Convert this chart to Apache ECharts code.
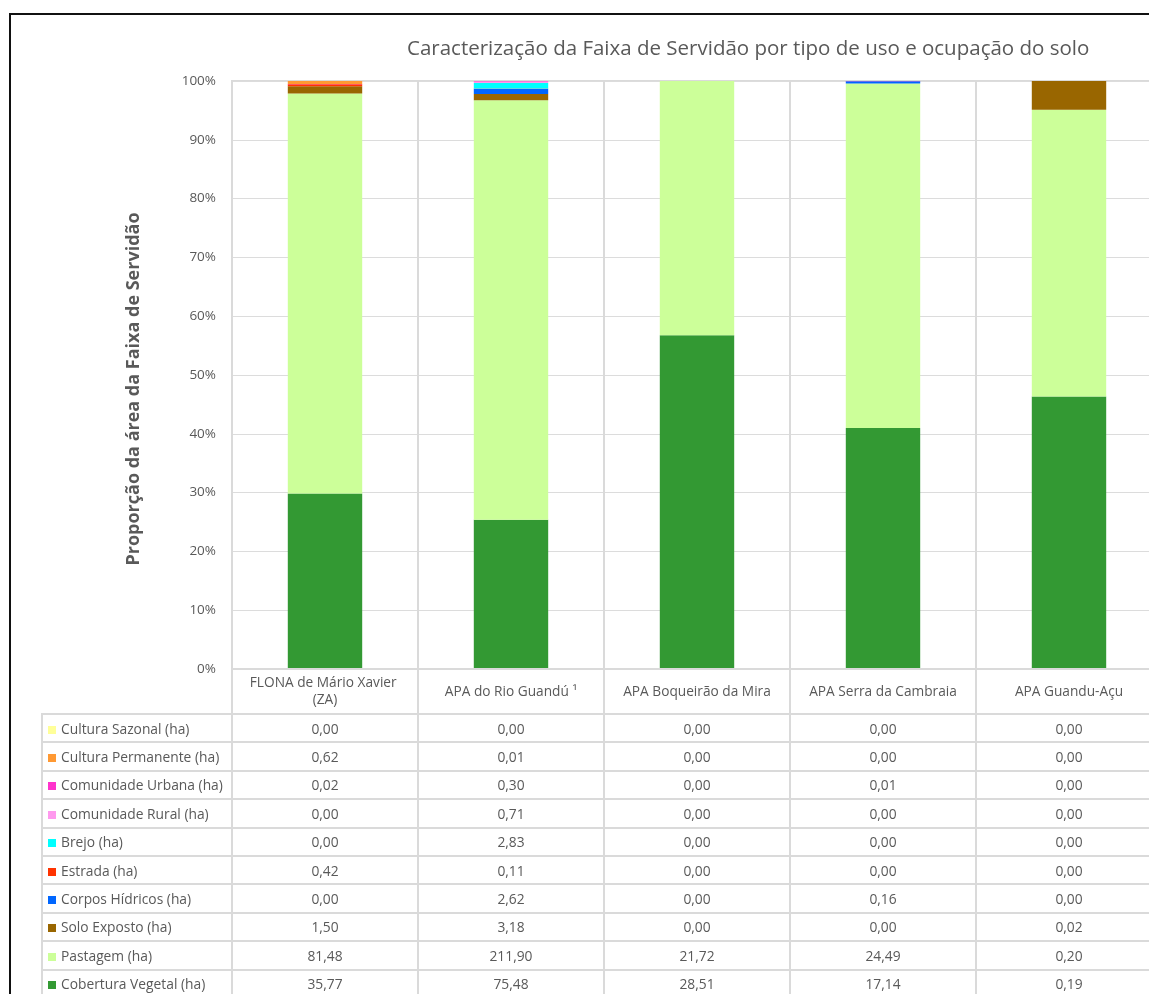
<!DOCTYPE html>
<html>
<head>
<meta charset="utf-8">
<script src="https://cdn.jsdelivr.net/npm/echarts@6/dist/echarts.min.js"></script>
<style>
  html, body { margin: 0; padding: 0; background: #fff; overflow: hidden; }
  #wrap { position: relative; width: 1149px; height: 994px; overflow: hidden; }
  #chart { position: absolute; left: 0; top: 0; width: 1200px; height: 994px; }
  #frame { position: absolute; left: 9px; top: 13px; width: 1200px; height: 1100px;
           border-left: 2px solid #111; border-top: 2px solid #111; }
  #tbl { position: absolute; left: 41px; top: 668px; width: 1122px; border-collapse: collapse;
         table-layout: fixed; font-family: "Open Sans", sans-serif; font-size: 13.8px; color: #595959; }
  #tbl td { border: 2px solid #dadada; padding: 0; white-space: nowrap; overflow: hidden; }
  #tbl td.val { text-align: center; }
  #tbl td.leg { padding-left: 5px; }
  #tbl tr.head td { height: 43px; }
  #tbl tr.row td { height: 26.4px; }
  #tbl td.blank { border-left: none; border-top: none; }
  .key { display: inline-block; width: 8px; height: 8px; margin-right: 5px; vertical-align: 0px; }
</style>
</head>
<body>
<div id="wrap">
  <div id="frame"></div>
  <div id="chart"></div>
  <table id="tbl"></table>
</div>
<script>
// categorias (unidades de conservação)
const categories = [
  "FLONA de Mário Xavier (ZA)",
  "APA do Rio Guandú ¹",
  "APA Boqueirão da Mira",
  "APA Serra da Cambraia",
  "APA Guandu-Açu"
];

// áreas em hectares, uma por categoria
const culturaSazonal    = [0.00, 0.00, 0.00, 0.00, 0.00];
const culturaPermanente = [0.62, 0.01, 0.00, 0.00, 0.00];
const comunidadeUrbana  = [0.02, 0.30, 0.00, 0.01, 0.00];
const comunidadeRural   = [0.00, 0.71, 0.00, 0.00, 0.00];
const brejo             = [0.00, 2.83, 0.00, 0.00, 0.00];
const estrada           = [0.42, 0.11, 0.00, 0.00, 0.00];
const corposHidricos    = [0.00, 2.62, 0.00, 0.16, 0.00];
const soloExposto       = [1.50, 3.18, 0.00, 0.00, 0.02];
const pastagem          = [81.48, 211.90, 21.72, 24.49, 0.20];
const coberturaVegetal  = [35.77, 75.48, 28.51, 17.14, 0.19];

const yTicks = [0, 10, 20, 30, 40, 50, 60, 70, 80, 90, 100];

// ordem da tabela (de cima para baixo)
const tableRows = [
  { name: "Cultura Sazonal (ha)", data: culturaSazonal, color: "#ffff99" },
  { name: "Cultura Permanente (ha)", data: culturaPermanente, color: "#ff9933" },
  { name: "Comunidade Urbana (ha)", data: comunidadeUrbana, color: "#ff33cc" },
  { name: "Comunidade Rural (ha)", data: comunidadeRural, color: "#ff99ee" },
  { name: "Brejo (ha)", data: brejo, color: "#00ffff" },
  { name: "Estrada (ha)", data: estrada, color: "#ff3300" },
  { name: "Corpos Hídricos (ha)", data: corposHidricos, color: "#0066ff" },
  { name: "Solo Exposto (ha)", data: soloExposto, color: "#996600" },
  { name: "Pastagem (ha)", data: pastagem, color: "#ccff99" },
  { name: "Cobertura Vegetal (ha)", data: coberturaVegetal, color: "#339933" }
];

const totals = categories.map((c, i) => tableRows.reduce((s, r) => s + r.data[i], 0));

// barras empilhadas 100% (de baixo para cima)
const series = tableRows.slice().reverse().map((r) => ({
  name: r.name,
  type: "bar",
  stack: "total",
  barWidth: "40%",
  itemStyle: { color: r.color },
  data: r.data.map((v, i) => (v / totals[i]) * 100)
}));

const chart = echarts.init(document.getElementById("chart"));
chart.setOption({
  animation: false,
  textStyle: { fontFamily: "Open Sans" },
  title: {
    text: "Caracterização da Faixa de Servidão por tipo de uso e ocupação do solo",
    left: 402,
    top: 34,
    textStyle: { fontSize: 20.5, fontWeight: "normal", color: "#595959", fontFamily: "Open Sans" }
  },
  grid: {
    left: 232, top: 81, width: 930, height: 588,
    show: true, borderColor: "#dadada", borderWidth: 2
  },
  xAxis: {
    type: "category",
    data: categories,
    axisTick: { show: false },
    axisLine: { lineStyle: { color: "#dadada", width: 2 } },
    splitLine: { show: true, interval: 0, lineStyle: { color: "#dadada", width: 2 } },
    axisLabel: {
      interval: 0,
      color: "#595959",
      fontSize: 13.7,
      width: 172,
      overflow: "break",
      lineHeight: 17,
      align: "center",
      verticalAlign: "middle",
      margin: 23
    }
  },
  yAxis: {
    type: "value",
    min: 0,
    max: 100,
    interval: 10,
    axisLine: { show: false },
    axisTick: { show: false },
    splitLine: { show: true, lineStyle: { color: "#dcdcdc", width: 1 } },
    axisLabel: {
      color: "#595959",
      fontSize: 13.5,
      margin: 16,
      formatter: (v) => (yTicks.includes(v) ? v + "%" : "")
    }
  },
  graphic: [{
    type: "text",
    x: 134,
    y: 389,
    rotation: Math.PI / 2,
    style: {
      text: "Proporção da área da Faixa de Servidão",
      fill: "#595959",
      font: "bold 18px 'Open Sans'",
      align: "center",
      verticalAlign: "middle"
    }
  }],
  series: series
});

// tabela de dados
const fmt = (v) => v.toFixed(2).replace(".", ",");
let html = '<colgroup><col style="width:190px">' +
  categories.map(() => '<col style="width:186px">').join("") + "</colgroup>";
html += '<tr class="head"><td class="blank"></td>' + categories.map(() => "<td></td>").join("") + "</tr>";
tableRows.forEach((r) => {
  html += '<tr class="row"><td class="leg"><span class="key" style="background:' + r.color + '"></span>' + r.name + "</td>" +
    r.data.map((v) => '<td class="val">' + fmt(v) + "</td>").join("") + "</tr>";
});
document.getElementById("tbl").innerHTML = html;
</script>
</body>
</html>
